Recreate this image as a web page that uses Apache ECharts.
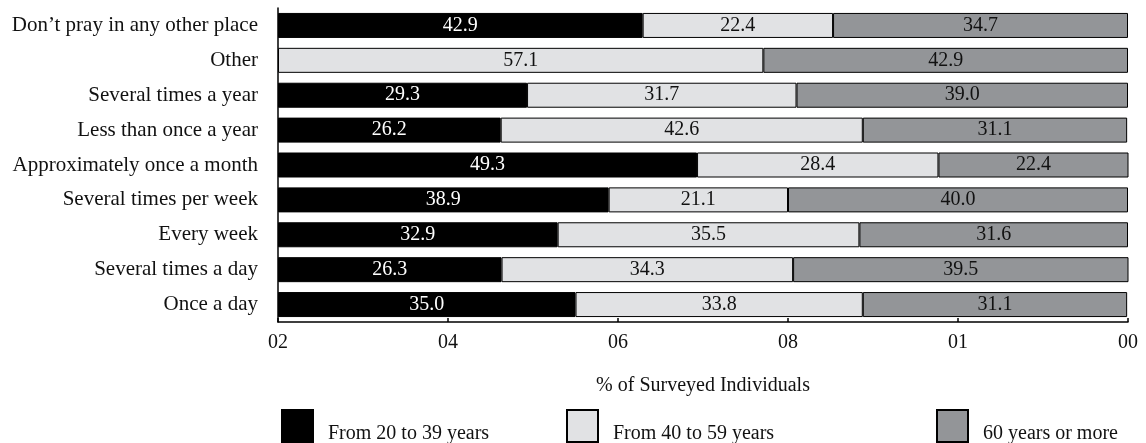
<!DOCTYPE html>
<html>
<head>
<meta charset="utf-8">
<script src="https://cdn.jsdelivr.net/npm/echarts@6/dist/echarts.min.js"></script>
<style>
  html, body { margin: 0; padding: 0; background: #fff; }
  #chart { width: 1146px; height: 443px; }
</style>
</head>
<body>
<div id="chart"></div>
<script>
// Frequency of prayer in other places, by age group (% of surveyed individuals)
const categories = [
  'Once a day',
  'Several times a day',
  'Every week',
  'Several times per week',
  'Approximately once a month',
  'Less than once a year',
  'Several times a year',
  'Other',
  'Don\u2019t pray in any other place'
];
const age20to39 = [35.0, 26.3, 32.9, 38.9, 49.3, 26.2, 29.3, null, 42.9];
const age40to59 = [33.8, 34.3, 35.5, 21.1, 28.4, 42.6, 31.7, 57.1, 22.4];
const age60plus = [31.1, 39.5, 31.6, 40.0, 22.4, 31.1, 39.0, 42.9, 34.7];
const seriesNames = ['From 20 to 39 years', 'From 40 to 59 years', '60 years or more'];
const tickLabels = ['02', '04', '06', '08', '01', '00'];

const FONT = '"Liberation Serif", "Times New Roman", serif';
const colors = ['#000000', '#e1e2e4', '#939598'];
const labelColors = ['#ffffff', '#111111', '#111111'];
const seriesData = [age20to39, age40to59, age60plus];

const chart = echarts.init(document.getElementById('chart'), null, { renderer: 'canvas' });

const series = seriesData.map((data, i) => ({
  name: seriesNames[i],
  type: 'bar',
  stack: 'total',
  data: data,
  barWidth: 25,
  itemStyle: { color: colors[i], borderColor: '#000', borderWidth: 1 },
  label: {
    show: true,
    position: 'inside',
    color: labelColors[i],
    fontFamily: FONT,
    fontSize: 20,
    formatter: p => (p.value == null ? '' : Number(p.value).toFixed(1))
  },
  emphasis: { disabled: true }
}));

// one legend block per series so each can sit at its own x position;
// the text sits low beside the swatch, so a tall empty spacer token pushes it down
const legendPositions = [276, 561, 931];
const legends = seriesNames.map((name, i) => ({
  data: [name],
  left: legendPositions[i],
  top: 404,
  orient: 'horizontal',
  itemWidth: 31,
  itemHeight: 32,
  itemGap: 0,
  selectedMode: false,
  icon: 'rect',
  itemStyle: { borderColor: '#000', borderWidth: 2 },
  formatter: n => '{s|}{t|' + n + '}',
  textStyle: {
    fontFamily: FONT,
    fontSize: 20,
    color: '#111',
    rich: {
      s: { height: 36, width: 10 },
      t: { fontFamily: FONT, fontSize: 20, color: '#111', verticalAlign: 'bottom' }
    }
  }
}));

chart.setOption({
  animation: false,
  backgroundColor: '#fff',
  grid: { left: 278, right: 18, top: 8, bottom: 121, containLabel: false },
  legend: legends,
  xAxis: {
    type: 'value',
    min: 0,
    max: 100,
    interval: 20,
    name: '% of Surveyed Individuals',
    nameLocation: 'middle',
    nameGap: 54,
    nameTextStyle: { fontFamily: FONT, fontSize: 20, color: '#111' },
    axisLine: { show: true, lineStyle: { color: '#000', width: 1.5 } },
    axisTick: { show: true, inside: true, length: 4, lineStyle: { color: '#000', width: 1.5 } },
    splitLine: { show: false },
    axisLabel: {
      fontFamily: FONT,
      fontSize: 20,
      color: '#111',
      margin: 11,
      formatter: (v) => tickLabels[Math.round(v / 20)]
    }
  },
  yAxis: {
    type: 'category',
    data: categories,
    axisLine: { show: true, lineStyle: { color: '#000', width: 1.5 } },
    axisTick: { show: false },
    axisLabel: { fontFamily: FONT, fontSize: 21, color: '#111', margin: 20 }
  },
  series: series
});
</script>
</body>
</html>
